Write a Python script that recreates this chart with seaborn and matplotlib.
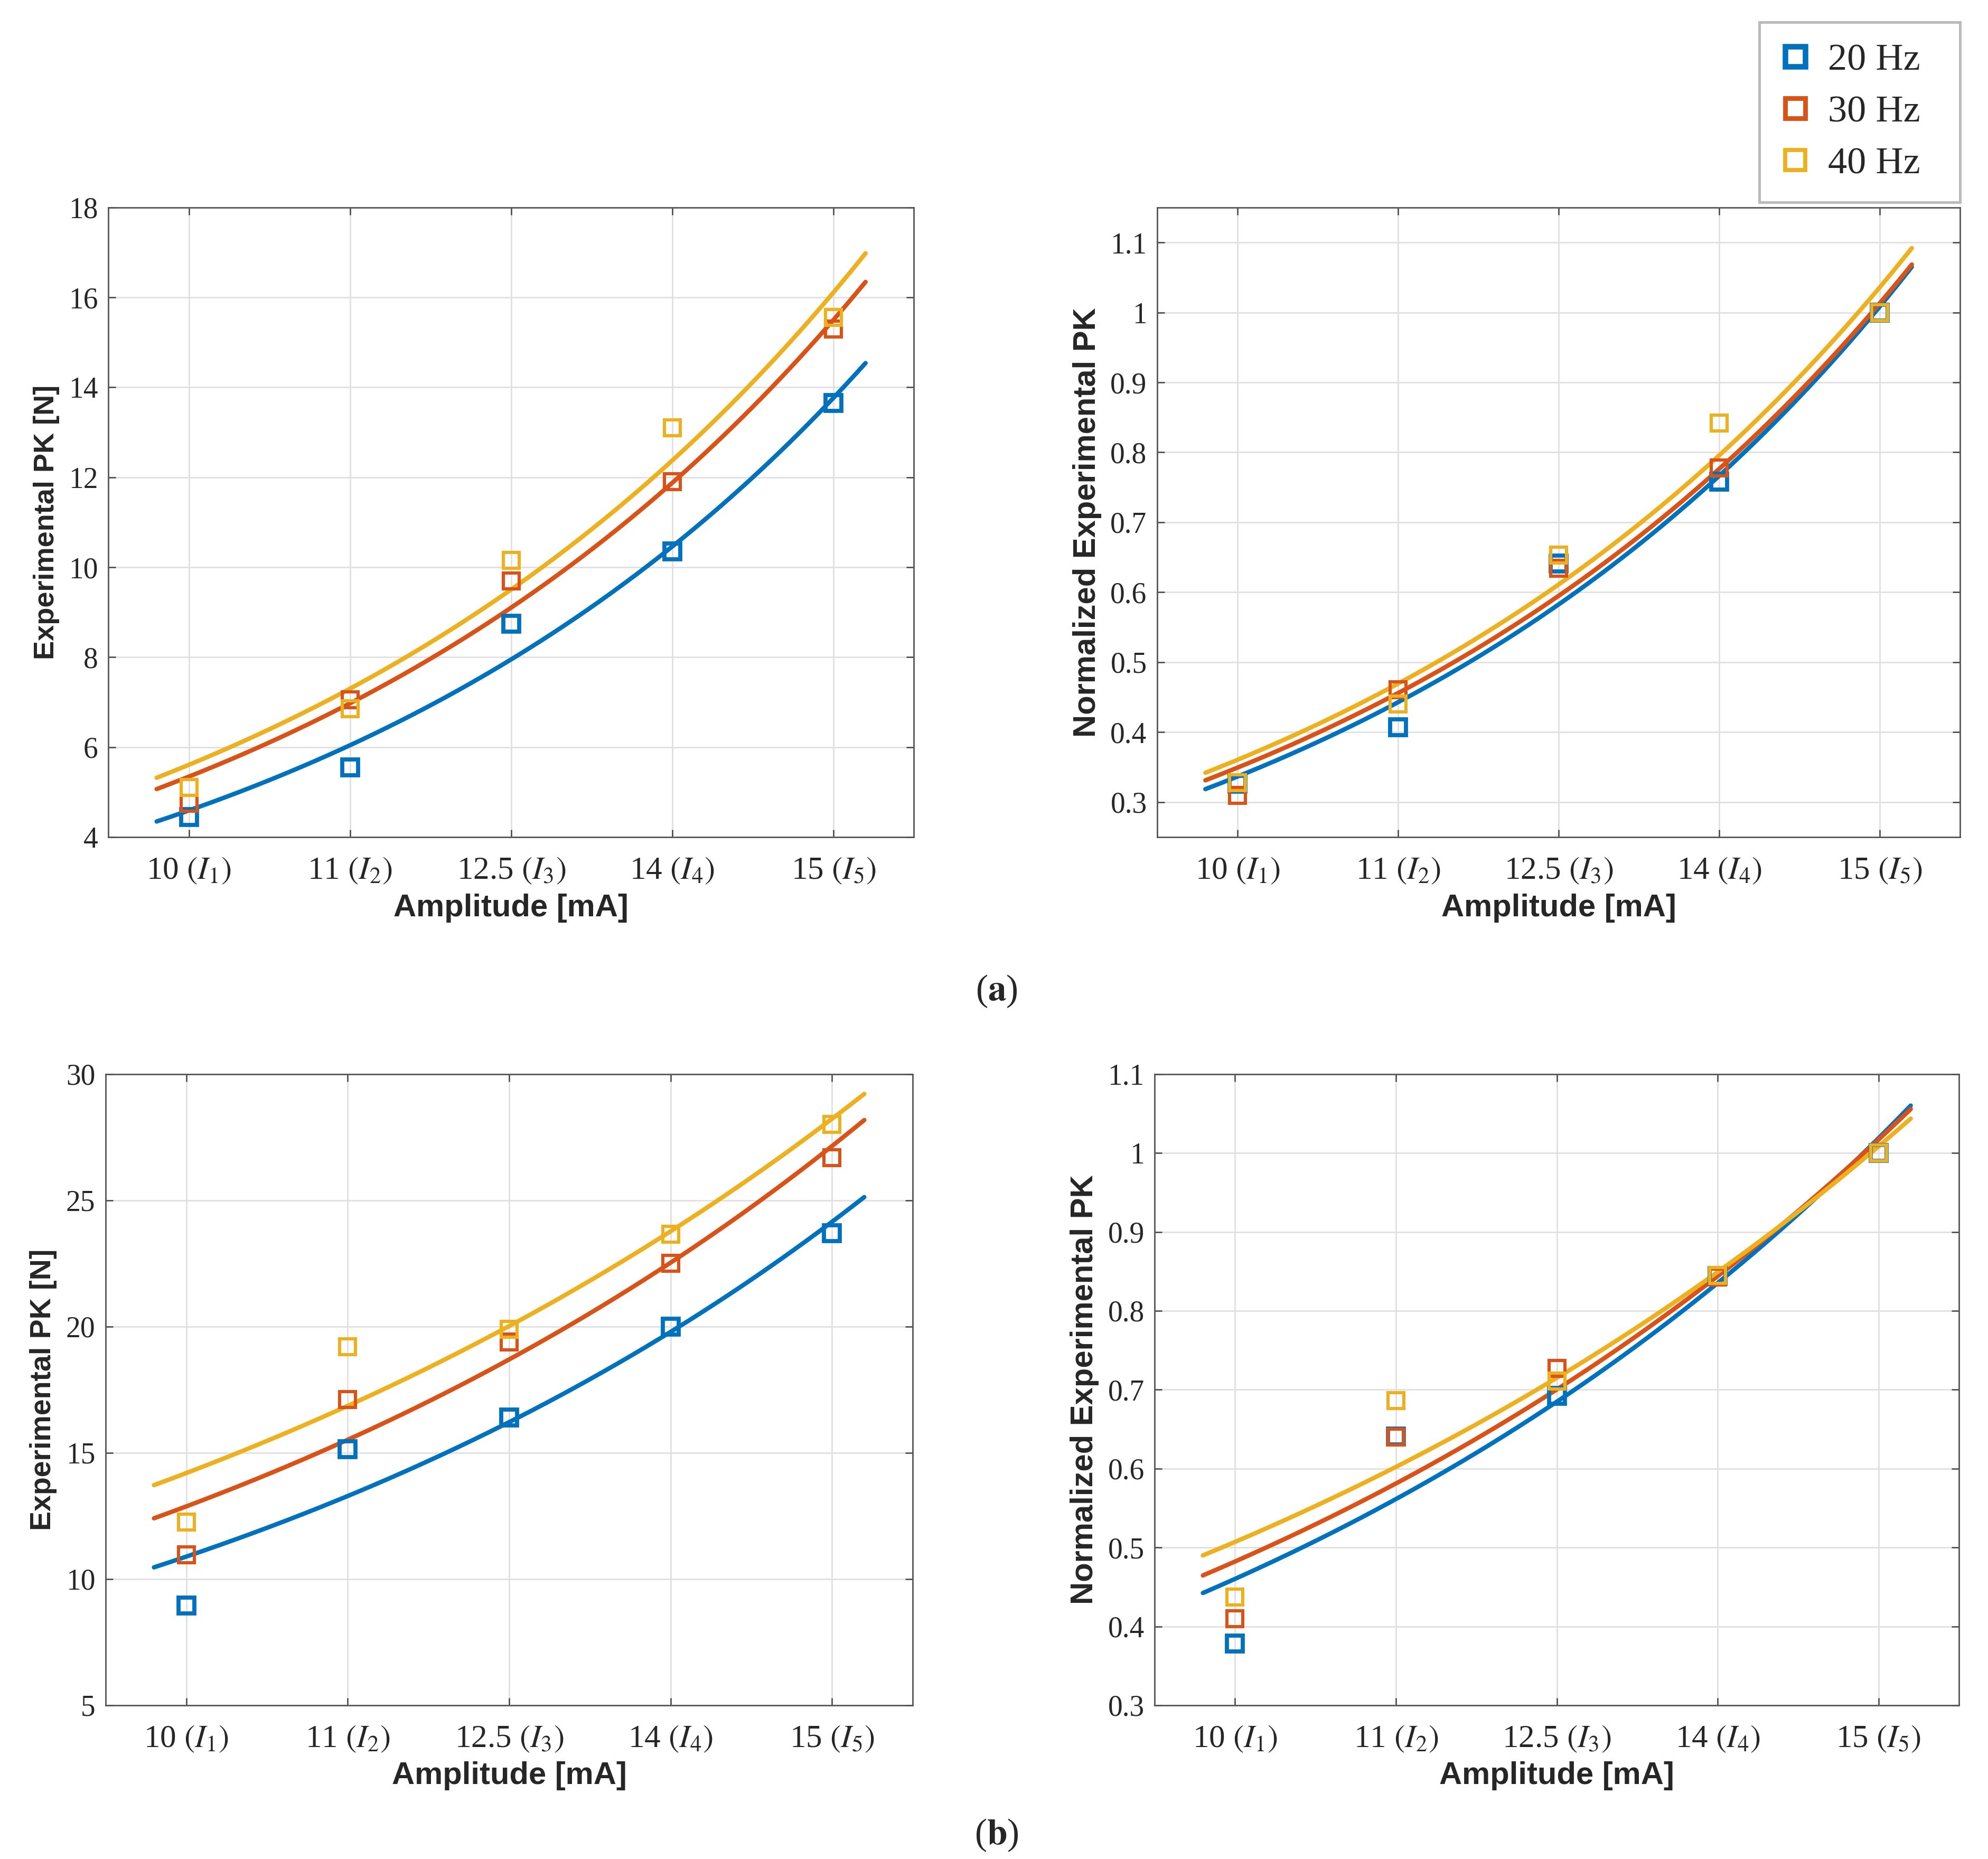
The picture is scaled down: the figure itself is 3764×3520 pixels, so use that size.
import numpy as np
import matplotlib
matplotlib.use("Agg")
import matplotlib.pyplot as plt
import matplotlib.ticker as mticker
from matplotlib.lines import Line2D
import seaborn as sns

# amplitude levels, drawn at equally spaced positions
amplitudes = ["10", "11", "12.5", "14", "15"]
tick_labels = [r"10 $(I_1)$", r"11 $(I_2)$", r"12.5 $(I_3)$", r"14 $(I_4)$", r"15 $(I_5)$"]
freqs = ["20 Hz", "30 Hz", "40 Hz"]

# (a) experimental PK [N]
a_20 = [4.45, 5.55, 8.75, 10.35, 13.65]
a_30 = [4.75, 7.05, 9.70, 11.90, 15.30]
a_40 = [5.10, 6.85, 10.15, 13.10, 15.55]
# (a) normalized
an_20 = [0.326, 0.407, 0.641, 0.758, 1.0]
an_30 = [0.310, 0.461, 0.634, 0.778, 1.0]
an_40 = [0.328, 0.440, 0.653, 0.842, 1.0]

# (b) experimental PK [N]
b_20 = [8.95, 15.15, 16.40, 20.00, 23.70]
b_30 = [10.95, 17.10, 19.40, 22.50, 26.70]
b_40 = [12.25, 19.20, 19.90, 23.65, 28.00]
# (b) normalized
bn_20 = [0.378, 0.641, 0.692, 0.844, 1.0]
bn_30 = [0.410, 0.640, 0.727, 0.843, 1.0]
bn_40 = [0.437, 0.686, 0.711, 0.845, 1.0]

colors = ["#0072BD", "#D95319", "#EDB120"]
marker_ew = [2.8, 2.2, 2.2]

sns.set_theme(style="whitegrid")
plt.rcParams["font.family"] = ["Liberation Serif", "DejaVu Serif"]
plt.rcParams["mathtext.fontset"] = "stix"
label_font = ["Liberation Sans", "DejaVu Sans"]


def exp_fit(x, y):
    # least-squares fit of y = a*exp(b*x)
    b, ln_a = np.polyfit(x, np.log(y), 1)
    a = np.exp(ln_a)
    for _ in range(100):
        e = np.exp(b * x)
        f = a * e
        J = np.column_stack([e, a * x * e])
        step = np.linalg.lstsq(J, y - f, rcond=None)[0]
        a += step[0]
        b += step[1]
    return a, b


def panel(ax, series, ylim, yticks, ylabel, ylabel_size):
    pos = np.arange(1, len(amplitudes) + 1)
    xs = np.linspace(0.8, 5.2, 300)
    for vals, c in zip(series, colors):
        a, b = exp_fit(pos.astype(float), np.array(vals))
        sns.lineplot(x=xs, y=a * np.exp(b * xs), color=c, lw=3.0, ax=ax)
    for vals, c, mew in zip(series, colors, marker_ew):
        ax.plot(pos, vals, ls="none", marker="s", ms=10.5, mfc="none", mec=c, mew=mew)
    ax.set_xlim(0.5, 5.5)
    ax.set_ylim(*ylim)
    ax.set_xticks(pos)
    ax.set_xticklabels(tick_labels, fontsize=22)
    ax.set_yticks(yticks)
    ax.yaxis.set_major_formatter(mticker.FormatStrFormatter("%g"))
    ax.tick_params(axis="y", labelsize=20, pad=7)
    ax.tick_params(axis="x", pad=13)
    ax.tick_params(direction="in", length=5, width=0.9, color="#444444",
                   top=True, right=True, bottom=True, left=True)
    ax.grid(True, color="#e0e0e0", lw=1.0)
    for s in ax.spines.values():
        s.set_color("#555555")
        s.set_linewidth(1.0)
    ax.set_xlabel("Amplitude [mA]", fontsize=21.5, fontweight="bold",
                  family=label_font, labelpad=5)
    ax.set_ylabel(ylabel, fontsize=ylabel_size, fontweight="bold",
                  family=label_font, labelpad=6)


fig = plt.figure(figsize=(18.82, 17.6), dpi=200)
ax1 = fig.add_axes([0.0545, 0.5497, 0.4052, 0.3387])
ax2 = fig.add_axes([0.5821, 0.5497, 0.4038, 0.3387])
ax3 = fig.add_axes([0.0531, 0.0827, 0.4060, 0.3395])
ax4 = fig.add_axes([0.5808, 0.0827, 0.4046, 0.3395])

norm_ticks = np.round(np.arange(0.3, 1.11, 0.1), 1)
panel(ax1, [a_20, a_30, a_40], (4, 18), np.arange(4, 19, 2), "Experimental PK [N]", 19.5)
panel(ax2, [an_20, an_30, an_40], (0.25, 1.15), norm_ticks, "Normalized Experimental PK", 21.5)
panel(ax3, [b_20, b_30, b_40], (5, 30), np.arange(5, 31, 5), "Experimental PK [N]", 20)
panel(ax4, [bn_20, bn_30, bn_40], (0.3, 1.1), norm_ticks, "Normalized Experimental PK", 21.5)

handles = [Line2D([], [], ls="none", marker="s", ms=14, mfc="none", mec=c, mew=w)
           for c, w in zip(colors, [3.8, 3.2, 2.8])]
leg = fig.legend(handles, [f + "  " for f in freqs], loc="upper right",
                 bbox_to_anchor=(0.986, 0.988),
                 fontsize=26, frameon=True, fancybox=False, borderpad=0.55,
                 labelspacing=0.45, handletextpad=0.45, handlelength=0.8,
                 borderaxespad=0)
leg.get_frame().set_edgecolor("#aaaaaa")
leg.get_frame().set_linewidth(1.8)

fig.text(0.5013, 0.4668, r"($\mathbf{a}$)", ha="center", va="center", fontsize=25)
fig.text(0.5013, 0.0128, r"($\mathbf{b}$)", ha="center", va="center", fontsize=25)

fig.savefig("out.png", dpi=200, facecolor="white")
